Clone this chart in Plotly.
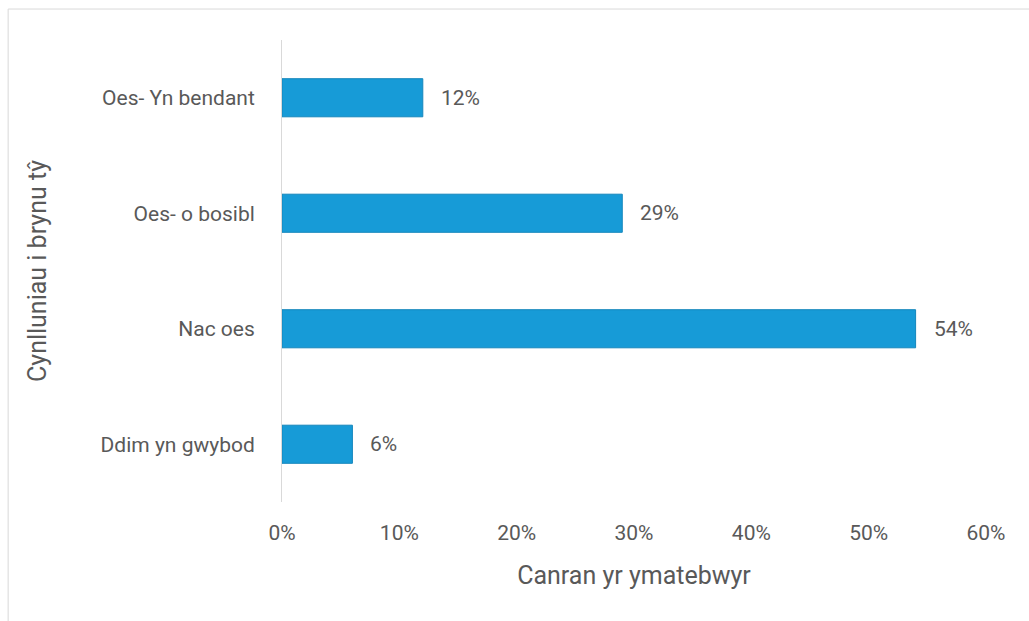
import plotly.graph_objects as go

# Survey responses: plans to buy a house
categories = ["Ddim yn gwybod", "Nac oes", "Oes- o bosibl", "Oes- Yn bendant"]
values = [6, 54, 29, 12]
tick_vals = [0, 10, 20, 30, 40, 50, 60]
tick_text = ["0%", "10%", "20%", "30%", "40%", "50%", "60%"]

FONT = "Roboto"
GREY = "#595959"
BLUE = "#179bd7"
TICK_SIZE = 21
TITLE_SIZE = 25

fig = go.Figure()
fig.add_trace(go.Bar(
    y=categories,
    x=values,
    orientation="h",
    width=0.33,
    marker=dict(color=BLUE, line=dict(color="#1486bc", width=1)),
    hoverinfo="skip",
))

# value labels to the right of each bar
for c, v in zip(categories, values):
    fig.add_annotation(
        x=v, y=c, xref="x", yref="y",
        text=f"{v}%", showarrow=False,
        xanchor="left", xshift=16,
        font=dict(family=FONT, size=TICK_SIZE, color=GREY),
    )

# outer chart border
fig.add_shape(
    type="rect", xref="paper", yref="paper",
    x0=-0.389, x1=1.07, y0=-0.3, y1=1.067,
    line=dict(color="#d9d9d9", width=1), fillcolor="rgba(0,0,0,0)",
    layer="below",
)

fig.update_layout(
    width=1029, height=621,
    margin=dict(l=282, r=43, t=40, b=119),
    paper_bgcolor="white", plot_bgcolor="white",
    showlegend=False,
    font=dict(family=FONT, size=TICK_SIZE, color=GREY),
    xaxis=dict(
        range=[0, 60],
        tickvals=tick_vals, ticktext=tick_text,
        showgrid=False, zeroline=False, showline=False,
        ticks="", ticklabelstandoff=16,
        tickfont=dict(family=FONT, size=TICK_SIZE, color=GREY),
        title=dict(text="Canran yr ymatebwyr", standoff=22,
                   font=dict(family=FONT, size=TITLE_SIZE, color=GREY)),
        fixedrange=True,
    ),
    yaxis=dict(
        showgrid=False, zeroline=False,
        showline=True, linecolor="#d9d9d9", linewidth=1,
        ticks="", ticklabelstandoff=22,
        tickfont=dict(family=FONT, size=TICK_SIZE, color=GREY),
        title=dict(text="Cynlluniau i brynu tŷ", standoff=46,
                   font=dict(family=FONT, size=TITLE_SIZE, color=GREY)),
        fixedrange=True,
    ),
)

fig.write_html("out.html")
